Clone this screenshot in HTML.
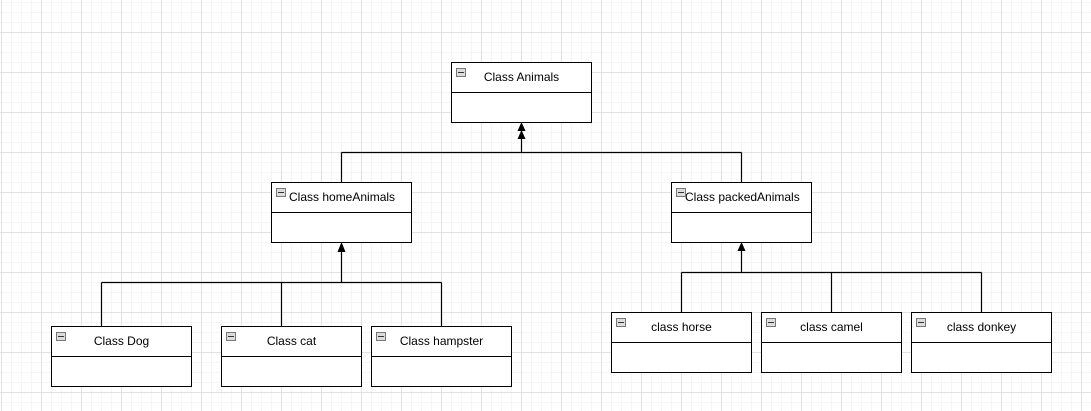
<!DOCTYPE html>
<html><head><style>
html,body{margin:0;padding:0}
body{width:1091px;height:411px;position:relative;overflow:hidden;background:#fff;
background-image:
linear-gradient(to right,#e2e2e2 1px,transparent 1px),
linear-gradient(to bottom,#e2e2e2 1px,transparent 1px),
linear-gradient(to right,#f5f5f5 1px,transparent 1px),
linear-gradient(to bottom,#f5f5f5 1px,transparent 1px);
background-size:40px 40px,40px 40px,10px 10px,10px 10px;
background-position:1px 32px,1px 32px,1px 2px,1px 2px;
font-family:"Liberation Sans",Arial,sans-serif;}
.b{position:absolute;width:139px;height:59px;border:1px solid #000;background:#fff;box-sizing:content-box}
.b .h{height:29px;border-bottom:1px solid #000;font-size:12px;line-height:29px;text-align:center;position:relative}
.b .m{position:absolute;left:4px;top:5px;width:8px;height:7px;border:1px solid #777;background:#ddd}
.b .m:after{content:"";position:absolute;left:1px;right:1px;top:3px;height:1px;background:#333}
svg{position:absolute;left:0;top:0}
</style></head><body>
<svg width="1091" height="411">
<g stroke="#000" stroke-width="1.2" fill="none">
<path d="M521.5 152.5V124M341.5 152.5H741.5M341.5 152.5V182M741.5 152.5V182"/>
<path d="M341.5 282.5V244M101.5 282.5H441.5M101.5 282.5V326M281.5 282.5V326M441.5 282.5V326"/>
<path d="M741.5 272.5V244M681.5 272.5H981.5M681.5 272.5V312M831.5 272.5V312M981.5 272.5V312"/>
</g>
<g fill="#000">
<path d="M521.5 122l-4 9h8z"/><path d="M521.5 130l-4 9h8z"/>
<path d="M341.5 242l-4 10h8z"/>
<path d="M741.5 242l-4 9h8z"/>
</g>
</svg>
<div class="b" style="left:451px;top:62px"><div class="h"><span class="m"></span>Class Animals</div></div>
<div class="b" style="left:271px;top:182px"><div class="h" style="text-align:left;padding-left:17px"><span class="m"></span>Class homeAnimals</div></div>
<div class="b" style="left:671px;top:182px"><div class="h" style="text-align:left;padding-left:13px"><span class="m"></span>Class packedAnimals</div></div>
<div class="b" style="left:51px;top:326px"><div class="h"><span class="m"></span>Class Dog</div></div>
<div class="b" style="left:221px;top:326px"><div class="h"><span class="m"></span>Class cat</div></div>
<div class="b" style="left:371px;top:326px"><div class="h"><span class="m"></span>Class hampster</div></div>
<div class="b" style="left:611px;top:312px"><div class="h"><span class="m"></span>class horse</div></div>
<div class="b" style="left:761px;top:312px"><div class="h"><span class="m"></span>class camel</div></div>
<div class="b" style="left:911px;top:312px"><div class="h"><span class="m"></span>class donkey</div></div>
</body></html>
